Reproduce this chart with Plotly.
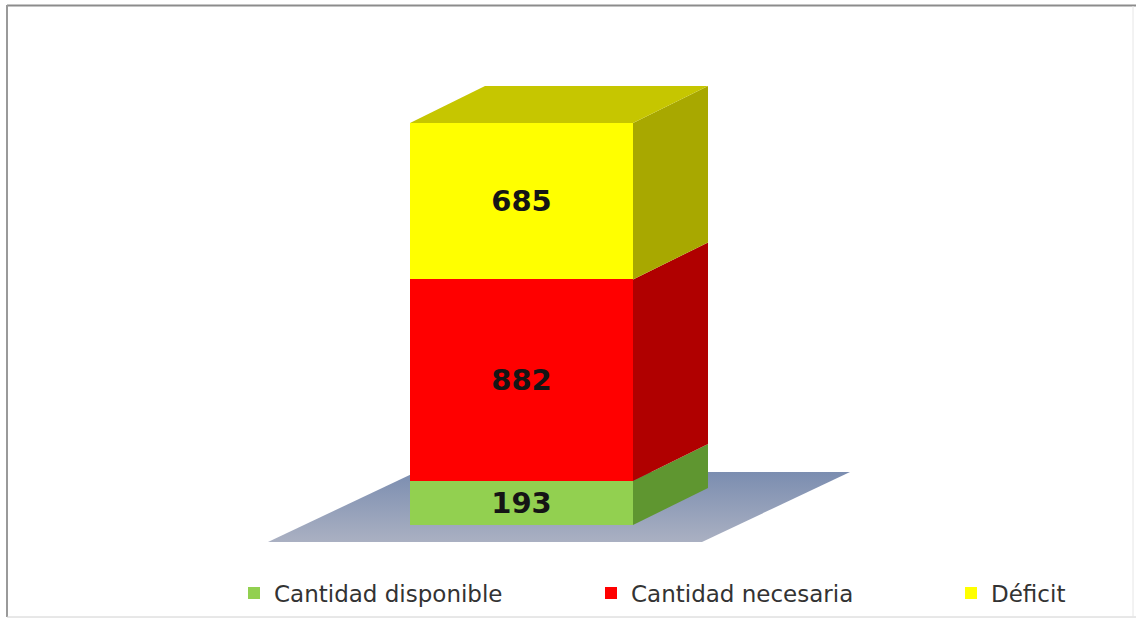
import plotly.graph_objects as go
import numpy as np

# ---- data ----
series_names = ["Cantidad disponible", "Cantidad necesaria", "Déficit"]
series_values = [193, 882, 685]
category = ["Total"]

# ---- style ----
front_colors = ["#92d050", "#ff0000", "#ffff00"]
side_colors = ["#5f9630", "#b00000", "#a8a800"]
top_color = "#c6c600"
legend_symbol_px = [248, 605, 965]

W, H = 1136, 619
PX_X = 223.0            # pixels per x unit (bar width = 1)
BAR_CX = 521.5          # pixel position of bar center
BASE_PX = 525.0         # pixel row of value 0
PX_Y = 402.0 / 1760.0   # pixels per value unit

x_range = [-BAR_CX / PX_X, (W - BAR_CX) / PX_X]
y_range = [-(H - BASE_PX) / PX_Y, BASE_PX / PX_Y]

DX = 75 / PX_X          # 3D depth offset
DY = 37 / PX_Y
FL_X0, FL_X1 = (268 - BAR_CX) / PX_X, (702 - BAR_CX) / PX_X
FL_Y = -(542 - BASE_PX) / PX_Y
FL_DX = 148 / PX_X
FL_DY = 70 / PX_Y

fig = go.Figure()

# floor (bottom subplot layer)
fig.add_trace(go.Scatter(
    x=[FL_X0, FL_X1, FL_X1 + FL_DX, FL_X0 + FL_DX, FL_X0],
    y=[FL_Y, FL_Y, FL_Y + FL_DY, FL_Y + FL_DY, FL_Y],
    mode="lines", line=dict(width=0), fill="toself",
    fillgradient=dict(type="vertical", start=FL_Y, stop=FL_Y + FL_DY,
                      colorscale=[[0, "#aab0c2"], [1, "#7b8db0"]]),
    showlegend=False, hoverinfo="skip", xaxis="x", yaxis="y"))

# front faces (stacked bars) on overlaying axes
legend_ids = ["legend", "legend2", "legend3"]
for name, val, col, lg in zip(series_names, series_values, front_colors, legend_ids):
    fig.add_trace(go.Bar(
        x=[0], y=[val], name=name, width=1, marker=dict(color=col, line=dict(width=0)),
        text=[str(val)], textposition="inside", insidetextanchor="middle",
        textangle=0, constraintext="none",
        textfont=dict(family="DejaVu Sans", size=29, color="#151515", weight="bold"),
        hoverinfo="name+y", xaxis="x2", yaxis="y2", legend=lg))

# side faces and top face derived from cumulative values
cum = np.concatenate([[0], np.cumsum(series_values)])
for i, col in enumerate(side_colors):
    b, t = cum[i], cum[i + 1]
    fig.add_trace(go.Scatter(
        x=[0.5, 0.5 + DX, 0.5 + DX, 0.5, 0.5],
        y=[b, b + DY, t + DY, t, b],
        mode="lines", line=dict(width=0), fill="toself", fillcolor=col,
        showlegend=False, hoverinfo="skip", xaxis="x2", yaxis="y2"))
T = cum[-1]
fig.add_trace(go.Scatter(
    x=[-0.5, 0.5, 0.5 + DX, -0.5 + DX, -0.5],
    y=[T, T, T + DY, T + DY, T],
    mode="lines", line=dict(width=0), fill="toself", fillcolor=top_color,
    showlegend=False, hoverinfo="skip", xaxis="x2", yaxis="y2"))

# frame lines
fig.add_shape(type="line", xref="paper", yref="paper", x0=7 / W, x1=1, y0=1 - 5.5 / H, y1=1 - 5.5 / H,
              line=dict(color="#8c8c8c", width=2))
fig.add_shape(type="line", xref="paper", yref="paper", x0=7 / W, x1=7 / W, y0=1 - 617 / H, y1=1 - 5 / H,
              line=dict(color="#9a9a9a", width=2))
fig.add_shape(type="line", xref="paper", yref="paper", x0=7 / W, x1=1, y0=1 - 617 / H, y1=1 - 617 / H,
              line=dict(color="#d0d0d0", width=1))
fig.add_shape(type="line", xref="paper", yref="paper", x0=1133 / W, x1=1133 / W, y0=1 - 617 / H, y1=1 - 6 / H,
              line=dict(color="#e6e6e6", width=1))

legend_font = dict(family="DejaVu Sans", size=23, color="#333333")
legend_common = dict(orientation="h", xanchor="left", y=1 - 593 / H, yanchor="middle",
                     font=legend_font, bgcolor="rgba(0,0,0,0)")

axis_hidden = dict(visible=False, fixedrange=True)
fig.update_layout(
    width=W, height=H, margin=dict(l=0, r=0, t=0, b=0, autoexpand=False),
    barmode="stack", bargap=0,
    paper_bgcolor="white", plot_bgcolor="white",
    xaxis=dict(range=x_range, **axis_hidden),
    yaxis=dict(range=y_range, **axis_hidden),
    xaxis2=dict(range=x_range, overlaying="x", **axis_hidden),
    yaxis2=dict(range=y_range, overlaying="y", **axis_hidden),
    showlegend=True,
    legend=dict(x=(legend_symbol_px[0] - 14) / W, **legend_common),
    legend2=dict(x=(legend_symbol_px[1] - 14) / W, **legend_common),
    legend3=dict(x=(legend_symbol_px[2] - 14) / W, **legend_common),
)

fig.write_html("out.html", config={"displayModeBar": False},
               post_script="document.body.style.margin='0';")
